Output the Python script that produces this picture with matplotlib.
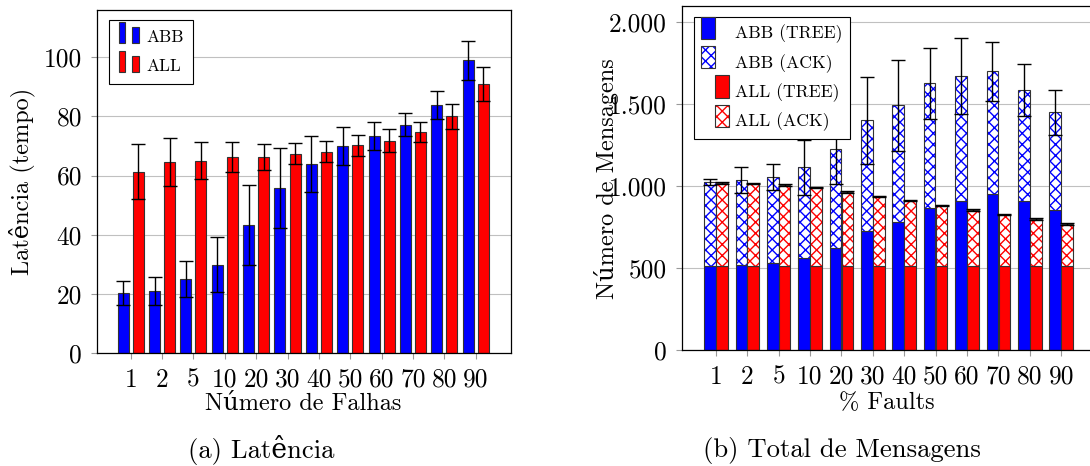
import numpy as np
import matplotlib
matplotlib.use('Agg')
import matplotlib.pyplot as plt
from matplotlib.patches import Rectangle
from matplotlib.legend_handler import HandlerBase

# categories (number / % of faults)
categories = ['1', '2', '5', '10', '20', '30', '40', '50', '60', '70', '80', '90']

# (a) latency
lat_abb = [20.3, 20.9, 25.0, 29.9, 43.2, 55.7, 64.0, 70.0, 73.4, 77.2, 83.7, 98.9]
lat_abb_err = [4.1, 4.7, 6.0, 9.3, 13.5, 13.5, 9.4, 6.3, 4.6, 4.0, 4.7, 6.6]
lat_all = [61.3, 64.5, 65.0, 66.2, 66.3, 67.4, 68.1, 70.2, 71.8, 74.7, 80.0, 90.9]
lat_all_err = [9.2, 8.1, 6.3, 5.1, 4.5, 3.6, 3.5, 3.5, 3.8, 3.4, 4.3, 5.6]
lat_yticks = [0, 20, 40, 60, 80, 100]

# (b) messages
msg_abb_tree = [512, 522, 530, 563, 626, 727, 784, 868, 908, 951, 910, 855]
msg_abb_ack = [514, 518, 525, 553, 601, 675, 710, 760, 763, 750, 678, 596]
msg_abb_err = [20, 80, 80, 167, 211, 266, 278, 216, 233, 179, 160, 137]
msg_all_tree = [511, 511, 511, 511, 511, 511, 511, 511, 511, 511, 511, 511]
msg_all_ack = [509, 505, 497, 483, 454, 428, 401, 373, 344, 316, 289, 261]
msg_all_err = [4, 4, 4, 4, 4, 4, 4, 4, 5, 5, 5, 6]
msg_yticks = [0, 500, 1000, 1500, 2000]
msg_ytick_labels = ['0', '500', '1.000', '1.500', '2.000']

BLUE = '#0000ff'
RED = '#ff0000'
EDGE = '#333333'

plt.rcParams['font.family'] = ['cmr10', 'DejaVu Serif']
plt.rcParams['axes.formatter.use_mathtext'] = True
plt.rcParams['hatch.linewidth'] = 1.0
plt.rcParams['axes.unicode_minus'] = False


class TwoBarHandler(HandlerBase):
    # pgfplots style ybar legend image: two little bars
    def __init__(self, color):
        super().__init__()
        self.color = color

    def create_artists(self, legend, orig_handle, xdescent, ydescent,
                       width, height, fontsize, trans):
        cy = -ydescent + height / 2
        w = width * 0.32
        r1 = Rectangle((-xdescent, cy - 0.6 * height), w, 1.75 * height,
                       facecolor=self.color, edgecolor=EDGE, lw=0.8, transform=trans)
        r2 = Rectangle((-xdescent + width * 0.66, cy - 0.6 * height), w, 1.3 * height,
                       facecolor=self.color, edgecolor=EDGE, lw=0.8, transform=trans)
        return [r1, r2]


class ShiftedPatch(HandlerBase):
    def __init__(self, shift, color, hatched):
        super().__init__()
        self.shift = shift
        self.color = color
        self.hatched = hatched

    def create_artists(self, legend, orig_handle, xdescent, ydescent,
                       width, height, fontsize, trans):
        cy = -ydescent + height / 2
        x0 = -xdescent + self.shift * width
        w = width * 0.5
        y0 = cy - 0.55 * height
        h = 1.8 * height
        out = []
        if self.hatched:
            out.append(Rectangle((x0, y0), w, h, facecolor='white', edgecolor=self.color,
                                 hatch='xxx', lw=0, transform=trans))
            out.append(Rectangle((x0, y0), w, h, fill=False, edgecolor=EDGE,
                                 lw=0.8, transform=trans))
        else:
            out.append(Rectangle((x0, y0), w, h, facecolor=self.color, edgecolor=EDGE,
                                 lw=0.8, transform=trans))
        return out


def style_axes(ax):
    ax.set_axisbelow(True)
    ax.yaxis.grid(True, color='#c0c0c0', lw=0.8)
    ax.tick_params(axis='both', which='both', direction='out', length=4.5,
                   color='#999999', labelsize=18.3, pad=6.0)
    for s in ax.spines.values():
        s.set_linewidth(0.9)


fig = plt.figure(figsize=(10.9, 4.66), dpi=100)
x = np.arange(len(categories))

# ---------- (a) Latencia ----------
ax1 = fig.add_axes([0.0887, 0.2418, 0.3798, 0.7367])
style_axes(ax1)
off1 = 0.24
bw1 = 0.35
b_abb = ax1.bar(x - off1, lat_abb, bw1, color=BLUE, edgecolor=EDGE, lw=0.8)
b_all = ax1.bar(x + off1, lat_all, bw1, color=RED, edgecolor=EDGE, lw=0.8)
ax1.errorbar(x - off1, lat_abb, yerr=lat_abb_err, fmt='none', ecolor='black',
             elinewidth=1, capsize=5, capthick=1)
ax1.errorbar(x + off1, lat_all, yerr=lat_all_err, fmt='none', ecolor='black',
             elinewidth=1, capsize=5, capthick=1)
ax1.set_xlim(-1.085, 12.116)
ax1.set_ylim(0, 115.9)
ax1.set_xticks(x)
ax1.set_xticklabels(categories)
ax1.set_yticks(lat_yticks)
ax1.set_yticklabels([str(v) for v in lat_yticks])
ax1.set_xlabel('Número de Falhas', fontsize=17.5)
ax1.xaxis.set_label_coords(0.5, -0.115)
ax1.set_ylabel('Latência (tempo)', fontsize=17.5)
ax1.yaxis.set_label_coords(-0.15, 0.5)
leg1 = ax1.legend(handles=[b_abb, b_all], labels=['ABB', 'ALL'],
                  handler_map={b_abb: TwoBarHandler(BLUE), b_all: TwoBarHandler(RED)},
                  loc='upper left', bbox_to_anchor=(0.0297, 0.971), borderaxespad=0,
                  fontsize=12.5, fancybox=False, edgecolor='black', framealpha=1,
                  handlelength=1.2, handletextpad=0.4, labelspacing=0.8,
                  borderpad=0.55)
leg1.get_frame().set_linewidth(0.8)

# ---------- (b) Total de Mensagens ----------
ax2 = fig.add_axes([0.6254, 0.2483, 0.3764, 0.7388])
style_axes(ax2)
off2 = 0.19
bw2 = 0.37
abb_total = np.array(msg_abb_tree) + np.array(msg_abb_ack)
all_total = np.array(msg_all_tree) + np.array(msg_all_ack)

h1 = ax2.bar(x - off2, msg_abb_tree, bw2, color=BLUE, edgecolor=EDGE, lw=0.8)
h2 = ax2.bar(x - off2, msg_abb_ack, bw2, bottom=msg_abb_tree, color='white',
             edgecolor=BLUE, hatch='xxx', lw=0)
ax2.bar(x - off2, msg_abb_ack, bw2, bottom=msg_abb_tree, fill=False, edgecolor=EDGE, lw=0.8)
h3 = ax2.bar(x + off2, msg_all_tree, bw2, color=RED, edgecolor=EDGE, lw=0.8)
h4 = ax2.bar(x + off2, msg_all_ack, bw2, bottom=msg_all_tree, color='white',
             edgecolor=RED, hatch='xxx', lw=0)
ax2.bar(x + off2, msg_all_ack, bw2, bottom=msg_all_tree, fill=False, edgecolor=EDGE, lw=0.8)
ax2.errorbar(x - off2, abb_total, yerr=msg_abb_err, fmt='none', ecolor='black',
             elinewidth=1, capsize=5, capthick=1)
ax2.errorbar(x + off2, all_total, yerr=msg_all_err, fmt='none', ecolor='black',
             elinewidth=1, capsize=5, capthick=1)
ax2.set_xlim(-1.09, 11.98)
ax2.set_ylim(0, 2099)
ax2.set_xticks(x)
ax2.set_xticklabels(categories)
ax2.set_yticks(msg_yticks)
ax2.set_yticklabels(msg_ytick_labels)
ax2.set_xlabel('% Faults', fontsize=17.5)
ax2.xaxis.set_label_coords(0.5, -0.12)
ax2.set_ylabel('Número de Mensagens', fontsize=17.5)
ax2.yaxis.set_label_coords(-0.153, 0.5)
hm = {h1: ShiftedPatch(0.0, BLUE, False), h2: ShiftedPatch(0.0, BLUE, True),
      h3: ShiftedPatch(0.5, RED, False), h4: ShiftedPatch(0.5, RED, True)}
leg2 = ax2.legend(handles=[h1, h2, h3, h4],
                  labels=['ABB (TREE)', 'ABB (ACK)', 'ALL (TREE)', 'ALL (ACK)'],
                  handler_map=hm, loc='upper left', bbox_to_anchor=(0.030, 0.967),
                  borderaxespad=0, fontsize=12.7, fancybox=False, edgecolor='black',
                  framealpha=1, handlelength=1.55, handletextpad=0.35,
                  labelspacing=0.6, borderpad=0.42)
leg2.get_frame().set_linewidth(0.8)

# captions
fig.text(261 / 1090, 1 - 450 / 466, '(a) Latência', ha='center', va='center', fontsize=19.2)
fig.text(842 / 1090, 1 - 450 / 466, '(b) Total de Mensagens', ha='center', va='center',
         fontsize=19.2)

fig.savefig('out.png', dpi=100)
